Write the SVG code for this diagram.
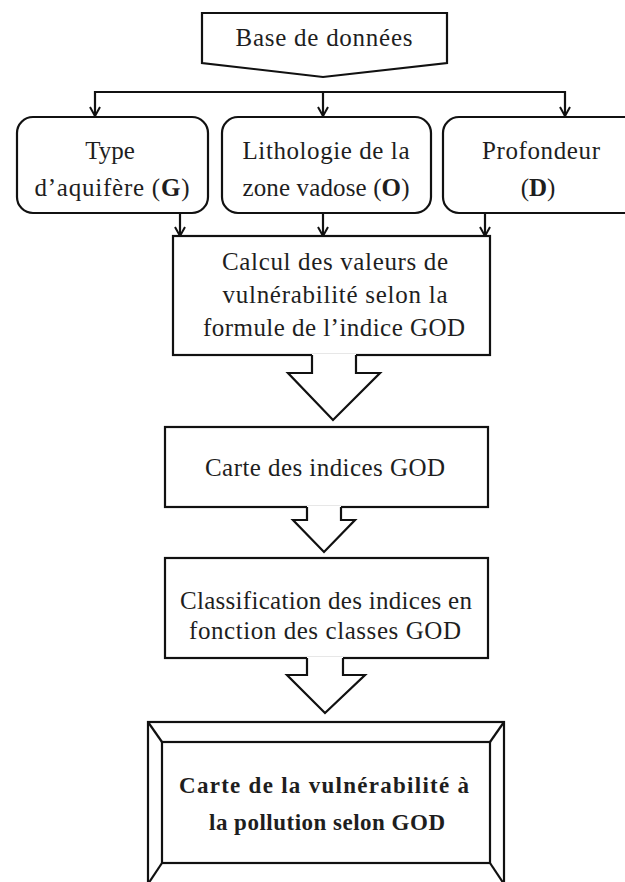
<svg xmlns="http://www.w3.org/2000/svg" width="625" height="882" viewBox="0 0 625 882">
<defs>
<marker id="arr" viewBox="0 0 12 12" refX="11" refY="6" markerWidth="12" markerHeight="12" markerUnits="userSpaceOnUse" orient="auto-start-reverse">
<polyline points="2,1 11,6 2,11" fill="none" stroke="#111" stroke-width="2"/>
</marker>
<style>
.bx{fill:#fff;stroke:#111;stroke-width:2.2}
.ln{fill:none;stroke:#111;stroke-width:2.2}
.t{font-family:"Liberation Serif","Times New Roman",serif;font-size:25px;fill:#1e1e1e;text-anchor:middle}
.b{font-weight:bold}
.fb{font-size:23px}
.af{fill:#fff;stroke:none}
</style>
</defs>
<rect width="625" height="882" fill="#fff"/>

<g id="connectors">
<polyline class="ln" points="95,116 95,92 565,92 565,116" marker-start="url(#arr)" marker-end="url(#arr)"/>
<line class="ln" x1="323" y1="92" x2="323" y2="116" marker-end="url(#arr)"/>
<line class="ln" x1="180" y1="213" x2="180" y2="236" marker-end="url(#arr)"/>
<line class="ln" x1="323" y1="213" x2="323" y2="236" marker-end="url(#arr)"/>
<line class="ln" x1="485" y1="213" x2="485" y2="236" marker-end="url(#arr)"/>
</g>

<g id="base">
<polygon class="bx" points="202,13 447,13 447,63 323,77 202,63"/>
<text class="t" x="324" y="46" textLength="177" lengthAdjust="spacing">Base de données</text>
</g>

<g id="type">
<rect class="bx" x="17" y="117" width="191" height="96" rx="16"/>
<text class="t" x="110" y="159">Type</text>
<text class="t" x="112" y="196" textLength="155" lengthAdjust="spacing">d’aquifère (<tspan class="b">G</tspan>)</text>
</g>

<g id="litho">
<rect class="bx" x="222" y="117" width="209" height="96" rx="16"/>
<text class="t" x="326" y="159" textLength="167" lengthAdjust="spacing">Lithologie de la</text>
<text class="t" x="326" y="196" textLength="167" lengthAdjust="spacing">zone vadose (<tspan class="b">O</tspan>)</text>
</g>

<g id="prof">
<rect class="bx" x="443" y="117" width="200" height="96" rx="16"/>
<text class="t" x="541" y="159" textLength="118" lengthAdjust="spacing">Profondeur</text>
<text class="t" x="538" y="196">(<tspan class="b">D</tspan>)</text>
</g>

<g id="calcul">
<rect class="bx" x="173" y="236" width="317" height="119"/>
<text class="t" x="335" y="270" textLength="226" lengthAdjust="spacing">Calcul des valeurs de</text>
<text class="t" x="335" y="303" textLength="225" lengthAdjust="spacing">vulnérabilité selon la</text>
<text class="t" x="334" y="336" textLength="262" lengthAdjust="spacing">formule de l’indice GOD</text>
</g>

<g id="arrow1">
<polygon class="af" points="312,354 312,373 288,373 333,420 380,373 356,373 356,354"/>
<polyline class="ln" points="312,355 312,373 288,373 333,420 380,373 356,373 356,355"/>
</g>

<g id="carte">
<rect class="bx" x="165" y="427" width="323" height="80"/>
<text class="t" x="325" y="476" textLength="240" lengthAdjust="spacing">Carte des indices GOD</text>
</g>

<g id="arrow2">
<polygon class="af" points="307,506 307,520 293,520 324,552 355,520 341,520 341,506"/>
<polyline class="ln" points="307,507 307,520 293,520 324,552 355,520 341,520 341,507"/>
</g>

<g id="classif">
<rect class="bx" x="165" y="558" width="323" height="100"/>
<text class="t" x="326" y="609" textLength="292" lengthAdjust="spacing">Classification des indices en</text>
<text class="t" x="325" y="639" textLength="272" lengthAdjust="spacing">fonction des classes GOD</text>
</g>

<g id="arrow3">
<polygon class="af" points="307,657 307,675 287,675 325,713 365,675 343,675 343,657"/>
<polyline class="ln" points="307,658 307,675 287,675 325,713 365,675 343,675 343,658"/>
</g>

<g id="final">
<rect class="bx" x="148" y="722" width="356" height="162"/>
<rect class="bx" x="162" y="742" width="328" height="121"/>
<line class="ln" x1="148" y1="722" x2="162" y2="742"/>
<line class="ln" x1="504" y1="722" x2="490" y2="742"/>
<line class="ln" x1="148" y1="884" x2="162" y2="863"/>
<line class="ln" x1="504" y1="884" x2="490" y2="863"/>
<text class="t b fb" x="324" y="793" textLength="290" lengthAdjust="spacing">Carte de la vulnérabilité à</text>
<text class="t b fb" x="327" y="830" textLength="236" lengthAdjust="spacing">la pollution selon GOD</text>
</g>
</svg>
